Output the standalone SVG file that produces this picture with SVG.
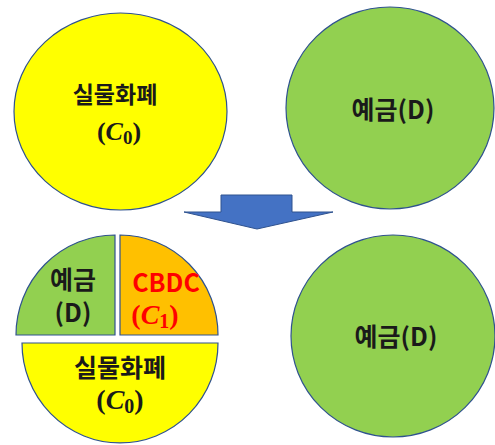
<svg xmlns="http://www.w3.org/2000/svg" width="495" height="445" viewBox="0 0 495 445">
<style>
.sh{stroke:#2F528F;stroke-width:1.2}
.y{fill:#FFFF00}.g{fill:#92D050}.o{fill:#FFC000}
.k{font-family:"Noto Sans CJK KR","Noto Sans",sans-serif;font-weight:bold;fill:#1a1a1a;text-anchor:middle}
.m{font-family:"Liberation Serif","DejaVu Serif",serif;font-weight:bold;fill:#1a1a1a;text-anchor:middle}
.r{fill:#FF0000}
</style>
<rect width="495" height="445" fill="#fff"/>
<g id="top-cash">
<ellipse class="sh y" cx="120.5" cy="111.5" rx="106.5" ry="98.5"/>
<text class="k" x="115" y="103" font-size="23">실물화폐</text>
<text class="m" x="119" y="140" font-size="26">(<tspan font-style="italic">C</tspan><tspan font-size="19" dy="4">0</tspan><tspan dy="-4">)</tspan></text>
</g>
<g id="top-deposit">
<ellipse class="sh g" cx="390" cy="108" rx="104" ry="101"/>
<text class="k" x="393" y="119" font-size="25">예금(D)</text>
</g>
<g id="arrow">
<path d="M221,195 L292,195 L292,212 L333,212 L257,229 L184,212 L221,212 Z" fill="#4472C4" stroke="#2F528F" stroke-width="1"/>
</g>
<g id="pie">
<path class="sh g" d="M115,335 L16,335 A99,100 0 0 1 115,235 Z"/>
<path class="sh o" d="M120,335 L120,235 A98,100 0 0 1 218,335 Z"/>
<path class="sh y" d="M22,343 L218,343 A98,100 0 0 1 22,343 Z"/>
<text class="k" x="73" y="289" font-size="25">예금</text>
<text class="k" x="73" y="322" font-size="25">(D)</text>
<text class="k r" x="166" y="292" font-size="25">CBDC</text>
<text class="m r" x="155" y="324" font-size="28">(<tspan font-style="italic">C</tspan><tspan font-size="20" dy="4">1</tspan><tspan dy="-4">)</tspan></text>
<text class="k" x="120" y="377" font-size="25">실물화폐</text>
<text class="m" x="120" y="409" font-size="28">(<tspan font-style="italic">C</tspan><tspan font-size="20" dy="4">0</tspan><tspan dy="-4">)</tspan></text>
</g>
<g id="bottom-deposit">
<ellipse class="sh g" cx="393" cy="336" rx="102" ry="101"/>
<text class="k" x="396" y="346" font-size="25">예금(D)</text>
</g>
</svg>
